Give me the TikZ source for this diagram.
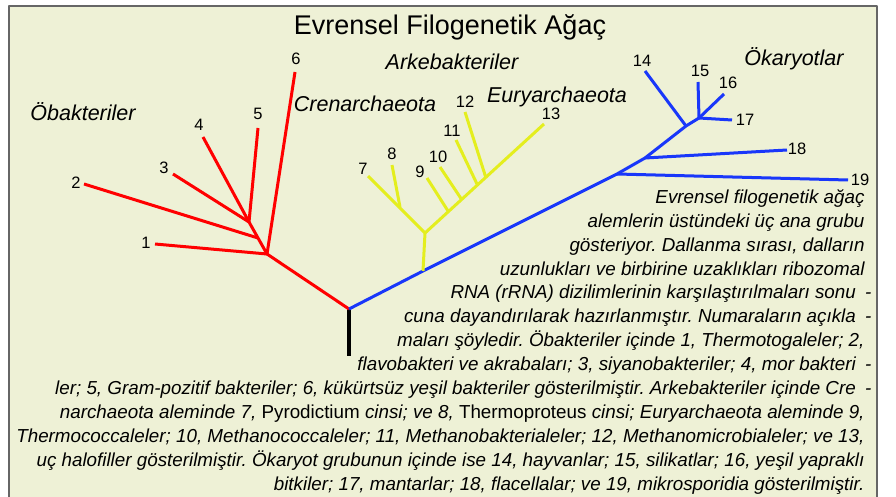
\documentclass[tikz,border=0pt]{standalone}
\usepackage{fontspec}
\setmainfont{Liberation Sans}
\frenchspacing
\definecolor{paper}{RGB}{238,241,214}
\definecolor{bacred}{RGB}{255,0,0}
\definecolor{eukblue}{RGB}{25,55,250}
\definecolor{archyel}{RGB}{228,238,30}
\begin{document}
\begin{tikzpicture}[x=1pt, y=-1pt, line width=3pt, line join=round,
  num/.style={inner sep=0pt, font=\fontsize{16.5}{16.5}\selectfont},
  group/.style={inner sep=0pt, anchor=base, font=\fontsize{21.5}{21.5}\selectfont\itshape}]
  \useasboundingbox (0,0) rectangle (896,497);
  \fill[paper] (9,6) rectangle (877,497);
  \draw[line width=1.5pt, black!60] (9,497) -- (9,6) -- (877,6) -- (877,497);

  \node (title) [inner sep=0pt, anchor=base, font=\fontsize{27}{27}\selectfont] at (450,35)
        {Evrensel Filogenetik Ağaç};

  % group names
  \node (obak)  [group] at (83,121)  {Öbakteriler};
  \node (arke)  [group] at (452,70)  {Arkebakteriler};
  \node (cren)  [group] at (365,112) {Crenarchaeota};
  \node (eury)  [group] at (557,103) {Euryarchaeota};
  \node (okar)  [group] at (794,66)  {Ökaryotlar};

  % junctions
  \coordinate (root) at (349,309);
  \coordinate (base) at (349,356);
  \coordinate (ba) at (267,254);
  \coordinate (bb) at (258,238);
  \coordinate (bc) at (249,222);
  \coordinate (e1) at (617,174);
  \coordinate (e2) at (645,158);
  \coordinate (e3) at (686,126);
  \coordinate (e4) at (699,118);
  \coordinate (y0) at (423,271);
  \coordinate (y1) at (425,233);
  \coordinate (y2) at (400,207);
  \coordinate (y9) at (448,211);
  \coordinate (y10) at (462,200);
  \coordinate (y11) at (477,184);
  \coordinate (y12) at (486,178);

  % tips
  \coordinate (t1) at (155,244);
  \coordinate (t2) at (84,184);
  \coordinate (t3) at (173,174);
  \coordinate (t4) at (203,137);
  \coordinate (t5) at (258,128);
  \coordinate (t6) at (295,72);
  \coordinate (t7) at (368,176);
  \coordinate (t8) at (392,165);
  \coordinate (t9) at (427,178);
  \coordinate (t10) at (440,167);
  \coordinate (t11) at (456,140);
  \coordinate (t12) at (465,112);
  \coordinate (t13) at (544,124);
  \coordinate (t14) at (645,71);
  \coordinate (t15) at (698,82);
  \coordinate (t16) at (724,94);
  \coordinate (t17) at (732,120);
  \coordinate (t18) at (787,150);
  \coordinate (t19) at (848,180);

  % numbers
  \node (n1) [num] at (146,243) {1};
  \node (n2) [num] at (76,183) {2};
  \node (n3) [num] at (164,168) {3};
  \node (n4) [num] at (199,125) {4};
  \node (n5) [num] at (258,114) {5};
  \node (n6) [num] at (296,59) {6};
  \node (n7) [num] at (363,169) {7};
  \node (n8) [num] at (392,154) {8};
  \node (n9) [num] at (420,172) {9};
  \node (n10) [num] at (438,157) {10};
  \node (n11) [num] at (452,131) {11};
  \node (n12) [num] at (465,102) {12};
  \node (n13) [num] at (551,114) {13};
  \node (n14) [num] at (642,61) {14};
  \node (n15) [num] at (700,71) {15};
  \node (n16) [num] at (728,83) {16};
  \node (n17) [num] at (745,120) {17};
  \node (n18) [num] at (797,149) {18};
  \node (n19) [num] at (860,180) {19};

  % branches
  \draw[line width=4pt] (root) -- (base);
  \draw[bacred] (root) -- (ba) -- (bb) -- (bc);
  \draw[bacred] (ba) -- (t1);
  \draw[bacred] (bb) -- (t2);
  \draw[bacred] (bc) -- (t3);
  \draw[bacred] (bc) -- (t4);
  \draw[bacred] (bc) -- (t5);
  \draw[bacred] (ba) -- (t6);
  \draw[eukblue] (root) -- (y0) -- (e1) -- (e2) -- (e3) -- (e4);
  \draw[eukblue] (e1) -- (t19);
  \draw[eukblue] (e2) -- (t18);
  \draw[eukblue] (e3) -- (t14);
  \draw[eukblue] (e4) -- (t15);
  \draw[eukblue] (e4) -- (t16);
  \draw[eukblue] (e4) -- (t17);
  \draw[archyel] (y0) -- (y1) -- (t7);
  \draw[archyel] (y2) -- (t8);
  \draw[archyel] (y1) -- (t13);
  \draw[archyel] (y9) -- (t9);
  \draw[archyel] (y10) -- (t10);
  \draw[archyel] (y11) -- (t11);
  \draw[archyel] (y12) -- (t12);

  % caption
  \node (note) [inner sep=0pt, anchor=north east, align=right,
               font=\fontsize{18.8}{23.9}\selectfont\itshape] at (866,188)
    {Evrensel filogenetik ağaç\\
     alemlerin üstündeki üç ana grubu\\
     gösteriyor. Dallanma sırası, dalların\\
     uzunlukları ve birbirine uzaklıkları ribozomal\\
     RNA (rRNA) dizilimlerinin karşılaştırılmaları sonu\enspace-\kern-7pt\\
     cuna dayandırılarak hazırlanmıştır. Numaraların açıkla\enspace-\kern-7pt\\
     maları şöyledir. Öbakteriler içinde 1, Thermotogaleler; 2,\\
     flavobakteri ve akrabaları; 3, siyanobakteriler; 4, mor bakteri\enspace-\kern-7pt\\
     ler; 5, Gram-pozitif bakteriler; 6, kükürtsüz yeşil bakteriler gösterilmiştir. Arkebakteriler içinde Cre\enspace-\kern-7pt\\
     narchaeota aleminde 7, {\upshape Pyrodictium} cinsi; ve 8, {\upshape Thermoproteus} cinsi; Euryarchaeota aleminde 9,\\
     Thermococcaleler; 10, Methanococcaleler; 11, Methanobakterialeler; 12, Methanomicrobialeler; ve 13,\\
     uç halofiller gösterilmiştir. Ökaryot grubunun içinde ise 14, hayvanlar; 15, silikatlar; 16, yeşil yapraklı\\
     bitkiler; 17, mantarlar; 18, flacellalar; ve 19, mikrosporidia gösterilmiştir.};
\end{tikzpicture}
\end{document}
